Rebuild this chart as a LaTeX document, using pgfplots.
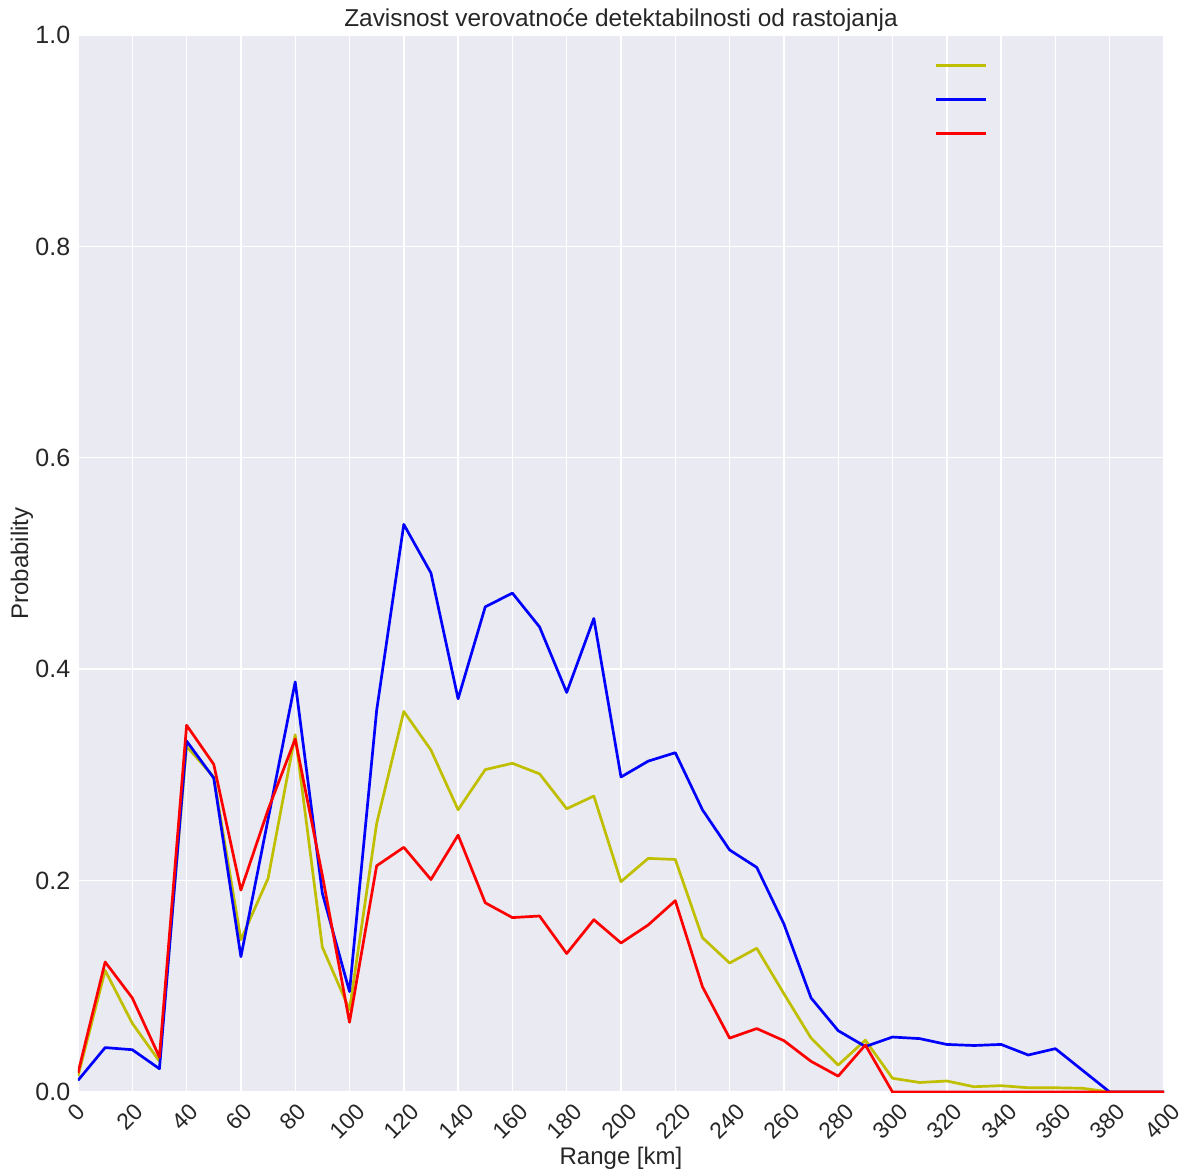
\documentclass[border=0pt]{standalone}
\usepackage{pgfplots}
\pgfplotsset{compat=1.18}
\usepackage{graphicx}
\usepackage{fontspec}
\setmainfont{Liberation Sans}
\definecolor{bgcol}{HTML}{EAEAF2}
\definecolor{txt}{HTML}{262626}
\definecolor{cy}{rgb}{0.75,0.75,0}
\pgfplotsset{
  legend image code/.code={\draw[#1] (0pt,0pt) -- (25pt,0pt);},
}
\begin{document}
\begin{tikzpicture}
\begin{axis}[
  scale only axis,
  width=543pt, height=528.5pt,
  xmin=0, xmax=400, ymin=0, ymax=1,
  xtick={0,20,...,400},
  xticklabels={\rotatebox{45}{0},\rotatebox{45}{20},\rotatebox{45}{40},\rotatebox{45}{60},\rotatebox{45}{80},\rotatebox{45}{100},\rotatebox{45}{120},\rotatebox{45}{140},\rotatebox{45}{160},\rotatebox{45}{180},\rotatebox{45}{200},\rotatebox{45}{220},\rotatebox{45}{240},\rotatebox{45}{260},\rotatebox{45}{280},\rotatebox{45}{300},\rotatebox{45}{320},\rotatebox{45}{340},\rotatebox{45}{360},\rotatebox{45}{380},\rotatebox{45}{400}},
  ytick={0,0.2,0.4,0.6,0.8,1.0},
  yticklabels={0.0,0.2,0.4,0.6,0.8,1.0},
  /pgf/number format/assume math mode=true,
  major tick length=0pt,
  axis line style={draw=none},
  axis background/.style={fill=bgcol},
  grid=major,
  major grid style={white, line width=0.7pt},
  yticklabel style={font=\fontsize{12.5}{14}\selectfont, text=txt, anchor=east, inner sep=0pt, xshift=-3.7pt},
  xticklabel style={font=\fontsize{11.5}{13}\selectfont, text=txt, anchor=north, inner sep=0pt, yshift=-5pt, xshift=-1pt},
  title={Zavisnost verovatnoće detektabilnosti od rastojanja},
  title style={font=\fontsize{12.2}{14}\selectfont, text=txt, at={(axis description cs:0.5,1.003)}, anchor=center},
  xlabel={Range [km]},
  xlabel style={font=\fontsize{12}{14}\selectfont, text=txt, at={(axis description cs:0.5,-0.0624)}, anchor=center},
  ylabel={Probability},
  ylabel style={font=\fontsize{12}{14}\selectfont, text=txt, at={(axis description cs:-0.0516,0.5)}, anchor=center},
  legend style={draw=none, fill=none, at={(axis description cs:0.788,0.9768)}, anchor=north west, inner sep=0pt, row sep=11.5pt},
  every axis plot/.append style={line width=1.35pt, line join=round},
]
\addplot[cy] coordinates {
(0,0.015)(10,0.115)(20,0.065)(30,0.029)(40,0.327)(50,0.298)(60,0.144)(70,0.202)(80,0.338)(90,0.137)
(100,0.078)(110,0.254)(120,0.360)(130,0.3235)(140,0.267)(150,0.305)(160,0.311)(170,0.301)(180,0.268)(190,0.280)
(200,0.199)(210,0.221)(220,0.220)(230,0.146)(240,0.122)(250,0.136)(260,0.093)(270,0.051)(280,0.0255)(290,0.049)
(300,0.013)(310,0.009)(320,0.0104)(330,0.005)(340,0.006)(350,0.004)(360,0.004)(370,0.0035)(380,0)(390,0)(400,0)
};
\addlegendentry{\mbox{}}
\addplot[blue] coordinates {
(0,0.011)(10,0.042)(20,0.040)(30,0.022)(40,0.332)(50,0.297)(60,0.128)(70,0.258)(80,0.388)(90,0.188)
(100,0.095)(110,0.361)(120,0.537)(130,0.491)(140,0.372)(150,0.459)(160,0.472)(170,0.440)(180,0.378)(190,0.448)
(200,0.298)(210,0.313)(220,0.321)(230,0.267)(240,0.229)(250,0.2125)(260,0.159)(270,0.089)(280,0.058)(290,0.043)
(300,0.052)(310,0.0505)(320,0.045)(330,0.044)(340,0.045)(350,0.035)(360,0.041)(370,0.0205)(380,0)(390,0)(400,0)
};
\addlegendentry{\mbox{}}
\addplot[red] coordinates {
(0,0.018)(10,0.123)(20,0.089)(30,0.033)(40,0.347)(50,0.310)(60,0.191)(70,0.267)(80,0.334)(90,0.205)
(100,0.066)(110,0.214)(120,0.2315)(130,0.201)(140,0.243)(150,0.179)(160,0.165)(170,0.1665)(180,0.131)(190,0.163)
(200,0.141)(210,0.158)(220,0.181)(230,0.0996)(240,0.051)(250,0.060)(260,0.0486)(270,0.029)(280,0.015)(290,0.0445)
(300,0)(310,0)(320,0)(330,0)(340,0)(350,0)(360,0)(370,0)(380,0)(390,0)(400,0)
};
\addlegendentry{\mbox{}}
\coordinate (ll) at (rel axis cs:0,0);
\coordinate (ur) at (rel axis cs:1,1);
\end{axis}
\pgfresetboundingbox
\path (ll) ++(-39pt,-38.5pt) coordinate (bbll);
\path (ur) ++(10.5pt,17.5pt) coordinate (bbur);
\path[use as bounding box] (bbll) rectangle (bbur);
\end{tikzpicture}
\end{document}
